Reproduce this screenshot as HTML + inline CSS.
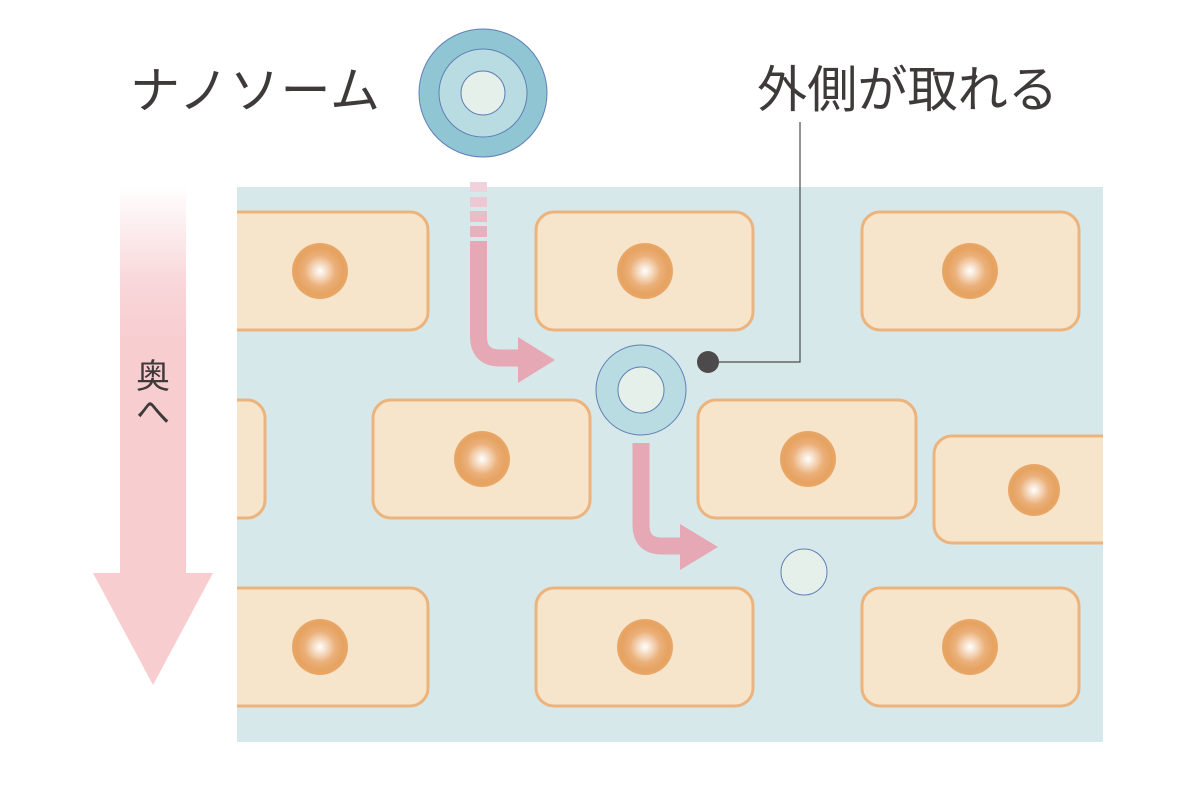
<!DOCTYPE html>
<html><head><meta charset="utf-8"><style>
html,body{margin:0;padding:0;background:#fff;}
svg{display:block;}
text{font-family:"Liberation Sans","Noto Sans CJK JP",sans-serif;fill:#3f3a3a;}
</style></head><body>
<svg width="1201" height="801" viewBox="0 0 1201 801" xmlns="http://www.w3.org/2000/svg">
<defs>
<linearGradient id="ga" x1="0" y1="0" x2="0" y2="1">
<stop offset="0" stop-color="#f7cdd0" stop-opacity="0"/>
<stop offset="0.25" stop-color="#f7cdd0" stop-opacity="0.8"/>
<stop offset="0.4" stop-color="#f7cdd0"/>
<stop offset="1" stop-color="#f7cdd0"/>
</linearGradient>
<radialGradient id="nuc">
<stop offset="0" stop-color="#ffffff"/>
<stop offset="0.55" stop-color="#ebb07a"/>
<stop offset="0.85" stop-color="#e6a260"/>
<stop offset="1" stop-color="#e8a868"/>
</radialGradient>
<clipPath id="bg"><rect x="237" y="187" width="866" height="555"/></clipPath>
</defs>
<rect x="120" y="185" width="66" height="390" fill="url(#ga)"/>
<polygon points="93,573 213,573 153,685" fill="#f7cdd0"/>
<text x="153" y="388" font-size="34" text-anchor="middle">奥</text>
<text x="153" y="424" font-size="34" text-anchor="middle">へ</text>

<rect x="237" y="187" width="866" height="555" fill="#d6e8ea"/>
<g clip-path="url(#bg)" fill="#f6e4cb" stroke="#ecb47c" stroke-width="3">
<rect x="200" y="212" width="228" height="118" rx="18"/>
<rect x="536" y="212" width="217" height="118" rx="18"/>
<rect x="862" y="212" width="217" height="118" rx="18"/>
<rect x="150" y="400" width="115" height="118" rx="18"/>
<rect x="373" y="400" width="217" height="118" rx="18"/>
<rect x="698" y="400" width="218" height="118" rx="18"/>
<rect x="934" y="436" width="200" height="107" rx="18"/>
<rect x="200" y="588" width="228" height="118" rx="18"/>
<rect x="536" y="588" width="217" height="118" rx="18"/>
<rect x="862" y="588" width="217" height="118" rx="18"/>
</g>
<g fill="url(#nuc)">
<circle cx="320" cy="271" r="28"/><circle cx="645" cy="271" r="28"/><circle cx="970" cy="271" r="28"/>
<circle cx="482" cy="459" r="28"/><circle cx="808" cy="459" r="28"/><circle cx="1034" cy="490" r="26"/>
<circle cx="320" cy="647" r="28"/><circle cx="645" cy="647" r="28"/><circle cx="970" cy="647" r="28"/>
</g>

<rect x="470" y="182" width="17" height="10" fill="#f0d2dc"/>
<rect x="470" y="197" width="17" height="10" fill="#ecc8d2"/>
<rect x="470" y="211" width="17" height="11" fill="#e9bcc8"/>
<rect x="470" y="226" width="17" height="11" fill="#e7b0bd"/>
<path d="M478.5 241 V336 Q478.5 358 500 358 H520" fill="none" stroke="#e6a8b4" stroke-width="17"/>
<polygon points="518,337 518,383 555,360" fill="#e6a8b4"/>
<path d="M641 443 V525 Q641 546 662 546 H682" fill="none" stroke="#e6a8b4" stroke-width="17"/>
<polygon points="680,524 680,570 718,547" fill="#e6a8b4"/>

<circle cx="483" cy="93" r="64" fill="#90c6d4" stroke="#5f7fb5" stroke-width="1"/>
<circle cx="483" cy="93" r="44" fill="#b9dbe2" stroke="#5f7fb5" stroke-width="1"/>
<circle cx="483" cy="93" r="22" fill="#e6f0ea" stroke="#5f7fb5" stroke-width="1"/>
<circle cx="641" cy="390" r="45" fill="#b9dbe2" stroke="#5f7fb5" stroke-width="1"/>
<circle cx="641" cy="390" r="23" fill="#e6f0ea" stroke="#5f7fb5" stroke-width="1"/>
<circle cx="804" cy="572" r="23" fill="#e6f0ea" stroke="#5f7fb5" stroke-width="1"/>

<circle cx="708" cy="362" r="11" fill="#4d4a4b"/>
<polyline points="708,362 800,362 800,122" fill="none" stroke="#4d4a4b" stroke-width="1.2"/>

<text x="130" y="108" font-size="50" textLength="250" lengthAdjust="spacing">ナノソーム</text>
<text x="757" y="107" font-size="50" textLength="301" lengthAdjust="spacingAndGlyphs">外側が取れる</text>
</svg>
</body></html>
